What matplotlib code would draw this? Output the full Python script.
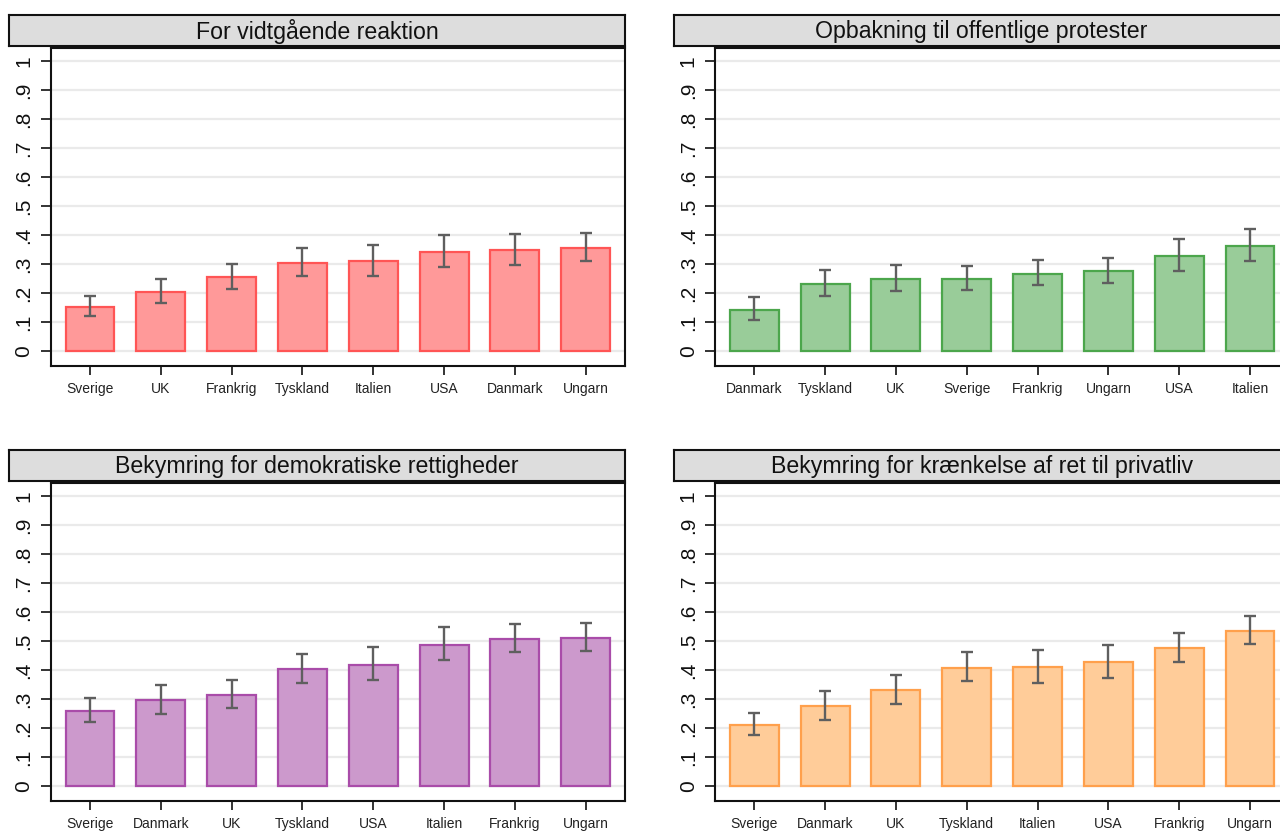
import matplotlib
matplotlib.use("Agg")
import matplotlib.pyplot as plt
import numpy as np

plt.rcParams['font.family'] = ['Liberation Sans', 'DejaVu Sans']

# ---------------- data ----------------
titles = [
    "For vidtgående reaktion",
    "Opbakning til offentlige protester",
    "Bekymring for demokratiske rettigheder",
    "Bekymring for krænkelse af ret til privatliv",
]

cats_reaktion = ["Sverige", "UK", "Frankrig", "Tyskland", "Italien", "USA", "Danmark", "Ungarn"]
mean_reaktion = [0.153, 0.202, 0.255, 0.303, 0.310, 0.340, 0.348, 0.355]
lo_reaktion = [0.122, 0.164, 0.214, 0.259, 0.260, 0.289, 0.297, 0.311]
hi_reaktion = [0.190, 0.247, 0.301, 0.355, 0.366, 0.399, 0.402, 0.406]

cats_protest = ["Danmark", "Tyskland", "UK", "Sverige", "Frankrig", "Ungarn", "USA", "Italien"]
mean_protest = [0.141, 0.231, 0.248, 0.248, 0.267, 0.274, 0.326, 0.361]
lo_protest = [0.105, 0.191, 0.206, 0.211, 0.228, 0.233, 0.276, 0.310]
hi_protest = [0.185, 0.278, 0.295, 0.292, 0.314, 0.322, 0.385, 0.421]

cats_demo = ["Sverige", "Danmark", "UK", "Tyskland", "USA", "Italien", "Frankrig", "Ungarn"]
mean_demo = [0.257, 0.297, 0.314, 0.402, 0.417, 0.487, 0.507, 0.511]
lo_demo = [0.220, 0.247, 0.268, 0.355, 0.366, 0.433, 0.462, 0.466]
hi_demo = [0.302, 0.349, 0.367, 0.456, 0.479, 0.547, 0.560, 0.563]

cats_priv = ["Sverige", "Danmark", "UK", "Tyskland", "Italien", "USA", "Frankrig", "Ungarn"]
mean_priv = [0.211, 0.275, 0.330, 0.408, 0.409, 0.426, 0.475, 0.536]
lo_priv = [0.177, 0.226, 0.282, 0.361, 0.355, 0.372, 0.429, 0.490]
hi_priv = [0.253, 0.326, 0.382, 0.462, 0.470, 0.485, 0.528, 0.586]

ytick_vals = [0, .1, .2, .3, .4, .5, .6, .7, .8, .9, 1]
ytick_labels = ["0", ".1", ".2", ".3", ".4", ".5", ".6", ".7", ".8", ".9", "1"]

panels = [
    (cats_reaktion, mean_reaktion, lo_reaktion, hi_reaktion, "#ff9999", "#ff5555"),
    (cats_protest, mean_protest, lo_protest, hi_protest, "#99cc99", "#4ca64c"),
    (cats_demo, mean_demo, lo_demo, hi_demo, "#cc99cc", "#a94ca9"),
    (cats_priv, mean_priv, lo_priv, hi_priv, "#ffcc99", "#ffa04c"),
]

W, H = 1280, 832
fig = plt.figure(figsize=(W / 100, H / 100), dpi=100)

def fx(px):
    return px / W

def fy(py):
    return 1 - py / H

# pixel geometry: (axes_left, axes_right, axes_top, axes_bottom, title_left, title_top, title_bottom)
geo = [
    (50.7, 625, 47.7, 366, 9, 15, 45.7),
    (715, 1289.3, 47.7, 366, 674, 15, 45.7),
    (50.7, 625, 482.7, 801, 9, 450, 481),
    (715, 1289.3, 482.7, 801, 674, 450, 481),
]

for (cats, mean, lo, hi, fc, ec), title, g in zip(panels, titles, geo):
    al, ar, at, ab, tl, tt, tb = g
    ax = fig.add_axes([fx(al), fy(ab), fx(ar - al), fy(at) - fy(ab)])
    x = np.arange(len(cats))
    mean_a = np.array(mean)
    yerr = np.vstack([mean_a - np.array(lo), np.array(hi) - mean_a])
    ax.set_axisbelow(True)
    ax.grid(axis='y', color='#eaeaea', linewidth=1.6)
    ax.bar(x, mean_a, width=0.69, color=fc, edgecolor=ec, linewidth=1.6, zorder=2)
    ax.errorbar(x, mean_a, yerr=yerr, fmt='none', ecolor='#5f5f5f',
                elinewidth=1.7, capsize=4.3, capthick=1.7, zorder=3)
    ax.set_xlim(-0.555, 7.555)
    ax.set_ylim(-0.052, 1.046)
    ax.set_yticks(ytick_vals)
    ax.set_yticklabels(ytick_labels, rotation=90, va='center', fontsize=15, color='#111111')
    ax.set_xticks(x)
    ax.set_xticklabels(cats, fontsize=10, color='#222222')
    ax.tick_params(axis='y', direction='out', length=7.5, width=1.4, color='#333333', pad=5)
    ax.tick_params(axis='x', direction='out', length=6.5, width=1.4, color='#333333', pad=5)
    for s in ax.spines.values():
        s.set_color('#111111')
        s.set_linewidth(1.5)

    tax = fig.add_axes([fx(tl), fy(tb), fx(ar - tl), fy(tt) - fy(tb)])
    tax.set_facecolor('#dddddd')
    tax.set_xticks([])
    tax.set_yticks([])
    for s in tax.spines.values():
        s.set_color('#111111')
        s.set_linewidth(1.5)
    tax.text(0.5, 0.46, title, ha='center', va='center', fontsize=16.7,
             color='#111111', transform=tax.transAxes)

fig.savefig("out.png", dpi=100)
